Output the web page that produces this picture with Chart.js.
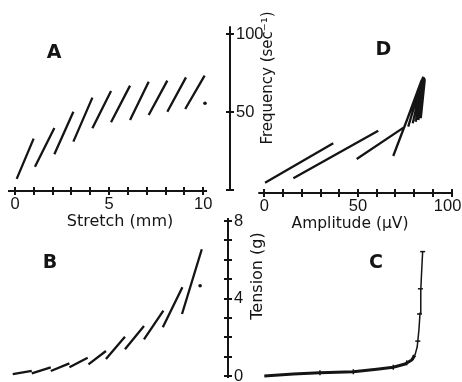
<!DOCTYPE html>
<html>
<head>
<meta charset="utf-8">
<script src="https://cdn.jsdelivr.net/npm/chart.js@4.4.1/dist/chart.umd.min.js"></script>
<style>
  html, body { margin: 0; padding: 0; background: #fff; overflow: hidden; }
  #fig { position: relative; width: 462px; height: 382px; }
  #fig canvas { position: absolute; left: 0; top: 0; }
</style>
</head>
<body>
<div id="fig">
  <canvas id="panelA" width="462" height="382"></canvas>
  <canvas id="panelD" width="462" height="382"></canvas>
  <canvas id="panelB" width="462" height="382"></canvas>
  <canvas id="panelC" width="462" height="382"></canvas>
</div>
<script>
/* A: frequency against stretch, one short line for each stretch step */
const stretchA = [[0.09, 0.99], [1.06, 2.09], [2.09, 3.10], [3.10, 4.11], [4.11, 5.10],
                  [5.10, 6.11], [6.11, 7.10], [7.10, 8.09], [8.09, 9.08], [9.04, 10.07]];
const freqA = [[7.1, 32.9], [14.9, 39.7], [22.9, 50.2], [31.0, 59.2], [39.6, 63.5],
               [43.4, 66.9], [44.9, 69.4], [48.1, 70.1], [50.2, 72.2], [51.9, 73.3]];
const dotStretchA = [10.09];
const dotFreqA = [55.6];

/* B: tension against stretch */
const stretchB = [[-0.12, 0.89], [0.89, 1.90], [1.90, 2.89], [2.89, 3.86], [3.90, 4.83],
                  [4.83, 5.84], [5.84, 6.85], [6.85, 7.88], [7.85, 8.89], [8.87, 9.92]];
const tensionB = [[0.10, 0.27], [0.14, 0.45], [0.26, 0.65], [0.45, 0.94], [0.60, 1.29],
                  [0.88, 2.02], [1.38, 2.58], [1.89, 3.37], [2.51, 4.58], [3.20, 6.54]];
const dotStretchB = [9.83];
const dotTensionB = [4.66];

/* D: frequency against amplitude (the last lines make the dark wedge) */
const ampD = [[0.4, 36.8], [15.5, 60.8], [49.3, 75.1], [68.8, 84.9], [74.5, 84.0],
              [76.8, 84.5], [79.2, 84.9], [80.8, 85.2], [82.2, 85.6], [83.5, 85.6]];
const freqD = [[4.7, 29.9], [7.5, 38.0], [19.9, 40.6], [21.8, 72.6], [39.6, 70.5],
               [40.6, 71.6], [42.8, 72.6], [43.8, 72.2], [44.9, 71.6], [46.0, 70.5]];

/* C: tension against amplitude */
const ampC = [0, 15.5, 29.7, 47.5, 60, 68.8, 75.1, 78.7, 80.4, 81.6, 82.5, 83.1, 83.5, 84.0, 84.5];
const tensionC = [0, 0.10, 0.17, 0.22, 0.35, 0.45, 0.62, 0.83, 1.08, 1.51, 2.37, 3.24, 4.44, 5.47, 6.42];
const barAmpC = [84.5, 83.3, 82.8, 81.9];
const barTensionC = [6.42, 4.5, 3.2, 1.8];
const tickAmpC = [29.7, 47.5, 68.8, 76.0, 79.5];
const tickTensionC = [0.17, 0.22, 0.45, 0.68, 0.95];

/* axes: ticks, labelled ticks and the drawn extent of each axis line */
const stretchTicks = [0, 1, 2, 3, 4, 5, 6, 7, 8, 9, 10];
const stretchLabels = [0, 5, 10];
const ampTicks = [0, 10, 20, 30, 40, 50, 60, 70, 80, 90, 100];
const ampLabels = [0, 50, 100];
const freqTicks = [0, 50, 100];
const freqLabels = [50, 100];
const tensionTicks = [0, 1, 2, 3, 4, 5, 6, 7, 8];
const tensionLabels = [0, 4, 8];
const stretchEnds = [-0.37, 10.2];
const ampEnds = [-3.2, 100.5];
const freqEnds = [0, 105];
const tensionEnds = [-0.1, 8.15];

const W = 462, H = 382;
const ink = '#141414';
const textFamily = "'DejaVu Sans', sans-serif";
const numFont = { family: "'Liberation Sans', Arial, sans-serif", size: 16.5 };

/* value at a pixel, from two anchor points on each axis */
function lin(v0, p0, v1, p1) {
  return p => v0 + (p - p0) * (v1 - v0) / (p1 - p0);
}
const sAt = lin(0, 15, 10, 203.3);
const aAt = lin(0, 264.3, 100, 451.7);
const fAt = lin(0, 190, 100, 34);
const tAt = lin(0, 376, 8, 221);

/* plot box of each panel, in pixels; the axis boxes fill the rest of the canvas */
const boxA = { l: 0, r: 230, t: 0, b: 191 };
const boxD = { l: 230, r: W, t: 0, b: 193 };
const boxB = { l: 0, r: 228, t: 191, b: H };
const boxC = { l: 228, r: W, t: 193, b: H };

function axis(pos, min, max, size, tickVals, labelVals, showLabels, pad) {
  return {
    type: 'linear', position: pos, min: min, max: max,
    border: { display: false },
    grid: { drawOnChartArea: false, drawTicks: true, tickLength: 4, lineWidth: 2, color: ink },
    ticks: {
      display: showLabels, autoSkip: false, maxRotation: 0, padding: pad,
      color: ink, font: numFont,
      callback: v => labelVals.includes(v) ? String(v) : ''
    },
    afterBuildTicks: s => { s.ticks = tickVals.map(v => ({ value: v })); },
    afterFit: s => {
      if (s.isHorizontal()) s.height = size; else s.width = size;
      s.paddingLeft = s.paddingRight = s.paddingTop = s.paddingBottom = 0;
    }
  };
}

function segs(xs, ys) {
  const pts = [];
  xs.forEach((x, i) => {
    pts.push({ x: x[0], y: ys[i][0] }, { x: x[1], y: ys[i][1] }, { x: x[1], y: null });
  });
  return pts;
}
const pairs = (xs, ys) => xs.map((x, i) => ({ x: x, y: ys[i] }));

const lineSet = (data, width) => ({
  data: data, showLine: true, borderColor: ink, borderWidth: width,
  pointRadius: 0, tension: 0, clip: false
});
const dotSet = data => ({
  data: data, showLine: false, pointRadius: 1.8, backgroundColor: ink, borderWidth: 0, clip: false
});
const barSet = (data, rot) => ({
  data: data, showLine: false, pointStyle: 'line', rotation: rot, pointRadius: 2.5,
  borderColor: ink, borderWidth: 1.5, clip: false
});

function notesPlugin(notes) {
  return {
    id: 'notes',
    afterDraw(chart) {
      const ctx = chart.ctx;
      notes.forEach(n => {
        ctx.save();
        ctx.translate(n.x, n.y);
        ctx.rotate((n.rot || 0) * Math.PI / 180);
        ctx.font = n.font;
        ctx.fillStyle = ink;
        ctx.textAlign = 'center';
        ctx.textBaseline = 'middle';
        ctx.fillText(n.text, 0, 0);
        ctx.restore();
      });
    }
  };
}

function panel(id, scales, datasets, notes) {
  new Chart(document.getElementById(id), {
    type: 'scatter',
    data: { datasets: datasets },
    options: {
      responsive: false,
      animation: false,
      events: [],
      layout: { autoPadding: false, padding: 0 },
      plugins: { legend: { display: false }, tooltip: { enabled: false } },
      scales: scales
    },
    plugins: [notesPlugin(notes)]
  });
}

const letterFont = 'bold 19px ' + textFamily;

/* A */
const aX = [sAt(boxA.l), sAt(boxA.r)], aY = [fAt(boxA.b), fAt(boxA.t)];
panel('panelA', {
  x: axis('bottom', aX[0], aX[1], H - boxA.b, stretchTicks, stretchLabels, true, 0),
  y: axis('right', aY[0], aY[1], W - boxA.r, freqTicks, freqLabels, true, 2)
}, [
  lineSet(stretchEnds.map(v => ({ x: v, y: aY[0] })), 2),
  lineSet(freqEnds.map(v => ({ x: aX[1], y: v })), 2),
  lineSet(segs(stretchA, freqA), 2.3),
  dotSet(pairs(dotStretchA, dotFreqA))
], [
  { text: 'A', x: 54, y: 53, font: letterFont },
  { text: 'Stretch (mm)', x: 120, y: 222, font: '16px ' + textFamily },
  { text: 'Frequency (sec\u207B\u00B9)', x: 268, y: 78, rot: -90, font: '15px ' + textFamily }
]);

/* D */
const dX = [aAt(boxD.l), aAt(boxD.r)], dY = [fAt(boxD.b), fAt(boxD.t)];
const ampAxis = axis('bottom', dX[0], dX[1], H - boxD.b, ampTicks, ampLabels, true, 0);
// the last label sits a little left of its tick, as in the print, so it stays on the page
ampAxis.ticks.callback = (v, i, t) => ampLabels.includes(v) ? (i === t.length - 1 ? v + '\u2002' : String(v)) : '';
panel('panelD', {
  x: ampAxis,
  y: axis('left', dY[0], dY[1], boxD.l, freqTicks, freqLabels, false, 0)
}, [
  lineSet(ampEnds.map(v => ({ x: v, y: dY[0] })), 2),
  lineSet(segs(ampD, freqD), 2.3)
], [
  { text: 'D', x: 383.5, y: 50, font: letterFont },
  { text: 'Amplitude (\u03BCV)', x: 350, y: 224, font: '15.5px ' + textFamily }
]);

/* B */
const bX = [sAt(boxB.l), sAt(boxB.r)], bY = [tAt(boxB.b), tAt(boxB.t)];
panel('panelB', {
  x: axis('top', bX[0], bX[1], boxB.t, stretchTicks, stretchLabels, false, 0),
  y: axis('right', bY[0], bY[1], W - boxB.r, tensionTicks, tensionLabels, true, 2)
}, [
  lineSet(tensionEnds.map(v => ({ x: bX[1], y: v })), 2),
  lineSet(segs(stretchB, tensionB), 2.3),
  dotSet(pairs(dotStretchB, dotTensionB))
], [
  { text: 'B', x: 50, y: 263, font: letterFont },
  { text: 'Tension (g)', x: 258, y: 276, rot: -90, font: '16px ' + textFamily }
]);

/* C */
const cX = [aAt(boxC.l), aAt(boxC.r)], cY = [tAt(boxC.b), tAt(boxC.t)];
const curveC = lineSet(pairs(ampC, tensionC), 2);
curveC.segment = { borderWidth: c => c.p0.parsed.y < 1 ? 3 : 1.5 };
panel('panelC', {
  x: axis('top', cX[0], cX[1], boxC.t, ampTicks, ampLabels, false, 0),
  y: axis('left', cY[0], cY[1], boxC.l, tensionTicks, tensionLabels, false, 0)
}, [
  curveC,
  barSet(pairs(barAmpC, barTensionC), 0),
  barSet(pairs(tickAmpC, tickTensionC), 90)
], [
  { text: 'C', x: 376, y: 263, font: letterFont }
]);
</script>
</body>
</html>
